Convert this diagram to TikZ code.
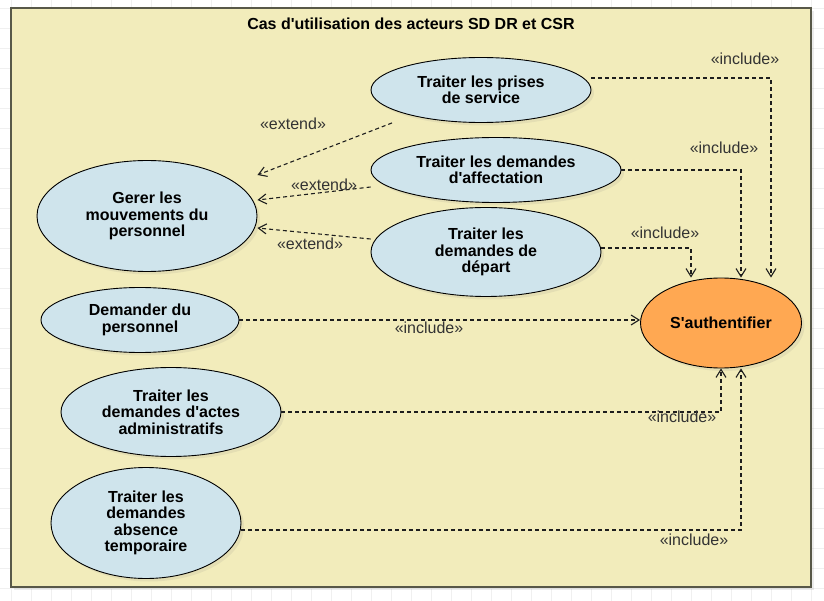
\documentclass[tikz,border=0pt]{standalone}
\usepackage{fontspec}
\setmainfont{Liberation Sans}[Ligatures=TeXOff]
\usetikzlibrary{shapes.geometric, arrows.meta, shadows}
\definecolor{baseyellow}{RGB}{242,236,187}
\definecolor{baseblue}{RGB}{207,228,236}
\definecolor{baseorange}{RGB}{255,168,82}
\definecolor{baseframe}{RGB}{88,88,72}
\definecolor{baseline}{RGB}{30,30,30}

\begin{document}
\begin{tikzpicture}[x=1pt, y=-1pt]
  \tikzset{
    use_case/.style 2 args={
      ellipse, draw=black, fill=baseblue, line width=0.9pt, minimum width=#1pt, minimum height=#2pt,
      inner sep=0pt, align=center, font=\fontsize{16}{16.5}\selectfont\bfseries,
      drop shadow={shadow xshift=3pt, shadow yshift=-3pt, opacity=0.12}
    },
    dep_arrow/.style={draw=baseline, line width=1.1pt, dash pattern=on 4pt off 3pt,
      -{Straight Barb[length=8pt,width=10pt]}},
    dep_label/.style={text=black!80, inner sep=0pt, font=\fontsize{16}{16.5}\selectfont},
    bg_grid/.style={draw=gray!12, line width=0.5pt}
  }

  % Page background with the faint grid
  \useasboundingbox (0,0) rectangle (824,601);
  \fill[white] (0,0) rectangle (824,601);
  \foreach \gx in {11,31,...,811}
    \draw[bg_grid] (\gx,0) -- (\gx,601);
  \foreach \gy in {8,28,...,588}
    \draw[bg_grid] (0,\gy) -- (824,\gy);

  % System frame and its title
  \draw[draw=baseframe, fill=baseyellow, line width=1.8pt,
    drop shadow={shadow xshift=3pt, shadow yshift=-3pt, opacity=0.15}] (11,8) rectangle (811,587);
  \node[dep_label, text=black, font=\fontsize{16}{16.5}\selectfont\bfseries] (title) at (411,24)
    {Cas d'utilisation des acteurs SD DR et CSR};

  % Use cases
  \node[use_case={220}{65}] (prises) at (481,90) {Traiter les prises\\de service};
  \node[use_case={250}{65}] (affect) at (496,170) {Traiter les demandes\\d'affectation};
  \node[use_case={230}{89}] (depart) at (486,252) {Traiter les\\demandes de\\départ};
  \node[use_case={220}{111}] (gerer) at (147,216) {Gerer les\\mouvements du\\personnel};
  \node[use_case={198}{65}] (demander) at (140,320) {Demander du\\personnel};
  \node[use_case={220}{89}] (actes) at (171,412) {Traiter les\\demandes d'actes\\administratifs};
  \node[use_case={190}{111}] (absence) at (146,523) {Traiter les\\demandes\\absence\\temporaire};
  \node[use_case={161}{90}, fill=baseorange] (auth) at (721,323) {S'authentifier};

  % Extend relations towards the main case
  \draw[dep_arrow] ([xshift=-89pt]prises.south) -- ([yshift=41pt]gerer.east);
  \draw[dep_arrow] ([yshift=-17pt]affect.west) -- ([yshift=16pt]gerer.east);
  \draw[dep_arrow] ([yshift=13pt]depart.west) -- ([yshift=-12pt]gerer.east);
  \node[dep_label] (ext_prises) at (293,124) {«extend»};
  \node[dep_label] (ext_affect) at (324,185) {«extend»};
  \node[dep_label] (ext_depart) at (310,244) {«extend»};

  % Include relations towards authentication
  \draw[dep_arrow] ([yshift=12pt]prises.east) -| ([xshift=50pt]auth.north);
  \draw[dep_arrow] (affect.east) -| ([xshift=20pt]auth.north);
  \draw[dep_arrow] ([yshift=4pt]depart.east) -| ([xshift=-30pt]auth.north);
  \draw[dep_arrow] (demander.east) -- (demander.east -| auth.west);
  \draw[dep_arrow] (actes.east) -| (auth.south);
  \draw[dep_arrow] ([yshift=-7pt]absence.east) -| ([xshift=20pt]auth.south);
  \node[dep_label] (inc_prises) at (745,59) {«include»};
  \node[dep_label] (inc_affect) at (724,148) {«include»};
  \node[dep_label] (inc_depart) at (665,233) {«include»};
  \node[dep_label] (inc_demander) at (429,328) {«include»};
  \node[dep_label] (inc_actes) at (682,417) {«include»};
  \node[dep_label] (inc_absence) at (694,540) {«include»};

\end{tikzpicture}
\end{document}
